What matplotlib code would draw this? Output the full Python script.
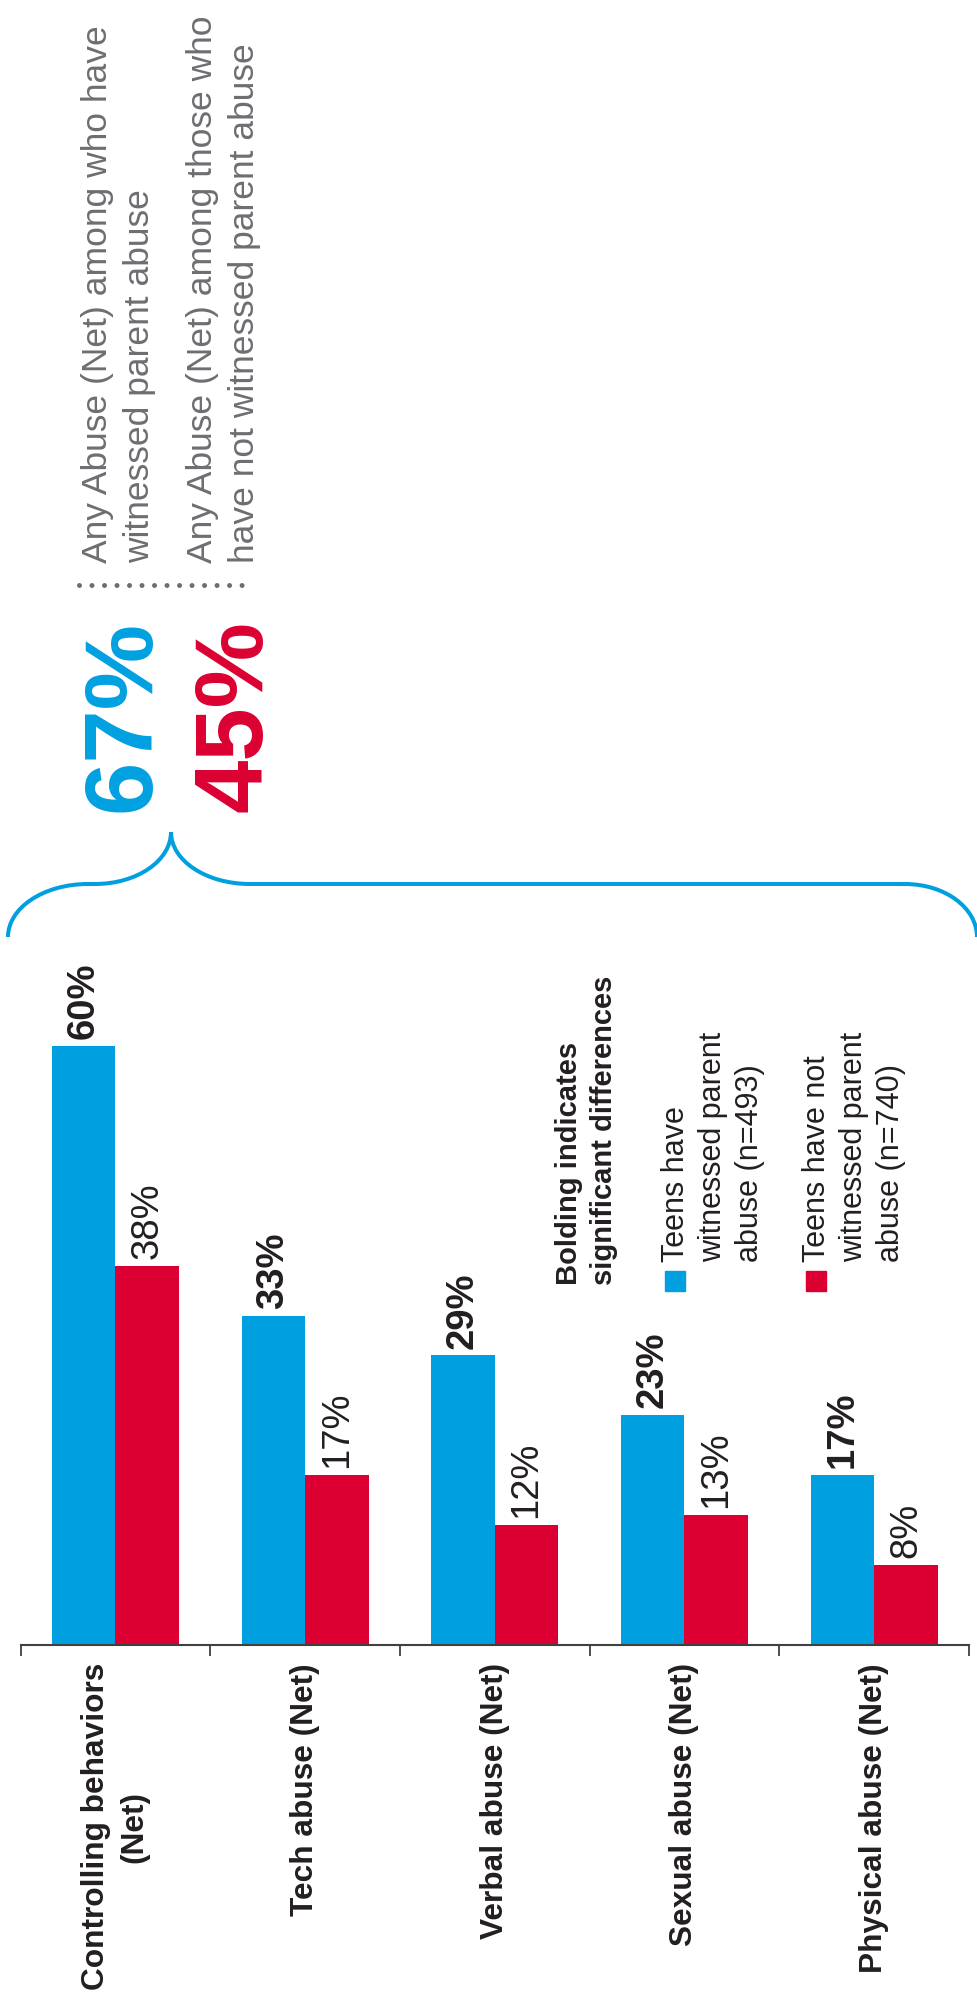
import numpy as np
import matplotlib.pyplot as plt
from matplotlib.path import Path
from matplotlib.patches import PathPatch, Rectangle

plt.rcParams['font.family'] = ['Liberation Sans', 'DejaVu Sans']

categories = ['Controlling behaviors\n(Net)', 'Tech abuse (Net)', 'Verbal abuse (Net)',
              'Sexual abuse (Net)', 'Physical abuse (Net)']
witnessed = [60, 33, 29, 23, 17]
not_witnessed = [38, 17, 12, 13, 8]
overall = [67, 45]
overall_text = ['Any Abuse (Net) among who have\nwitnessed parent abuse',
                'Any Abuse (Net) among those who\nhave not witnessed parent abuse']
legend_labels = ['Teens have\nwitnessed parent\nabuse (n=493)',
                 'Teens have not\nwitnessed parent\nabuse (n=740)']
legend_title = 'Bolding indicates\nsignificant differences'

blue = '#00a0e0'
red = '#dc0032'
dark = '#231f20'
grey = '#6d6e71'

W, H = 978, 2007
fig = plt.figure(figsize=(W / 100, H / 100), dpi=100)

ax = fig.add_axes([20.6 / W, (H - 1645) / H, 948.4 / W, 619 / H])
x = np.arange(len(categories))
bw = 0.335
ax.bar(x - bw / 2, witnessed, bw, color=blue)
ax.bar(x + bw / 2, not_witnessed, bw, color=red)
ax.set_xlim(-0.5, len(categories) - 0.5)
ax.set_ylim(0, 62)

for i in range(len(categories)):
    ax.annotate(f'{witnessed[i]}%', (x[i] - bw / 2, witnessed[i]), xytext=(0, 5),
                textcoords='offset points', rotation=90, ha='center', va='bottom',
                fontsize=27.5, fontweight='bold', color=dark)
    ax.annotate(f'{not_witnessed[i]}%', (x[i] + bw / 2, not_witnessed[i]), xytext=(0, 5),
                textcoords='offset points', rotation=90, ha='center', va='bottom',
                fontsize=27.5, color=dark)

ax.set_xticks(np.arange(len(categories) + 1) - 0.5)
ax.set_xticklabels([])
ax.set_xticks(x, minor=True)
ax.set_xticklabels(categories, minor=True, rotation=90, fontsize=22.8, fontweight='bold',
                   va='top', ha='center', multialignment='center', color=dark,
                   linespacing=1.35)
ax.tick_params(axis='x', which='major', length=8, width=1.3, color='#404040', direction='out')
ax.tick_params(axis='x', which='minor', length=0, pad=13)
ax.set_yticks([])
for s in ['left', 'right', 'top']:
    ax.spines[s].set_visible(False)
ax.spines['bottom'].set_color('#404040')
ax.spines['bottom'].set_linewidth(1.5)

# overlay in pixel coordinates for the annotations
ov = fig.add_axes([0, 0, 1, 1])
ov.set_xlim(0, W)
ov.set_ylim(H, 0)
ov.axis('off')


def vtext(x0, y0, txt, pitch, **kw):
    # rotated text, one line after the other, baseline at x0 and start at y0
    for j, line in enumerate(txt.split('\n')):
        ov.text(x0 + j * pitch, y0, line, rotation=90, rotation_mode='anchor',
                ha='left', va='baseline', **kw)


# curly brace
k = 0.5523
verts = [(8, 937), (8, 937 - k * 53), (88 - k * 80, 884), (88, 884),
         (95, 884),
         (95 + k * 76, 884), (171, 832 + k * 52), (171, 832),
         (171, 832 + k * 52), (250 - k * 79, 884), (250, 884),
         (905, 884),
         (905 + k * 72, 884), (977, 937 - k * 53), (977, 937)]
codes = [Path.MOVETO, Path.CURVE4, Path.CURVE4, Path.CURVE4,
         Path.LINETO,
         Path.CURVE4, Path.CURVE4, Path.CURVE4,
         Path.CURVE4, Path.CURVE4, Path.CURVE4,
         Path.LINETO,
         Path.CURVE4, Path.CURVE4, Path.CURVE4]
ov.add_patch(PathPatch(Path(verts, codes), facecolor='none', edgecolor=blue, lw=2.9))

# big totals
for xb, val, col in zip([150, 262], overall, [blue, red]):
    vtext(xb, 812, f'{val}%', 0, fontsize=69, fontweight='bold', color=col)

# dotted separator
ov.plot([79, 252], [585, 585], color=grey, lw=3.6, linestyle=(0, (0.001, 2.5)),
        dash_capstyle='round')

for xb, txt in zip([107, 212], overall_text):
    vtext(xb, 563, txt, 42, fontsize=25.5, color=grey)

# legend
vtext(577, 1285, legend_title, 35, fontsize=21, fontweight='bold', color=dark)
for xb, lab, col in zip([684, 825], legend_labels, [blue, red]):
    ov.add_patch(Rectangle((xb - 19, 1271), 20, 20, color=col))
    vtext(xb, 1262, lab, 37, fontsize=22, color=dark)

fig.savefig('out.png', dpi=100)
